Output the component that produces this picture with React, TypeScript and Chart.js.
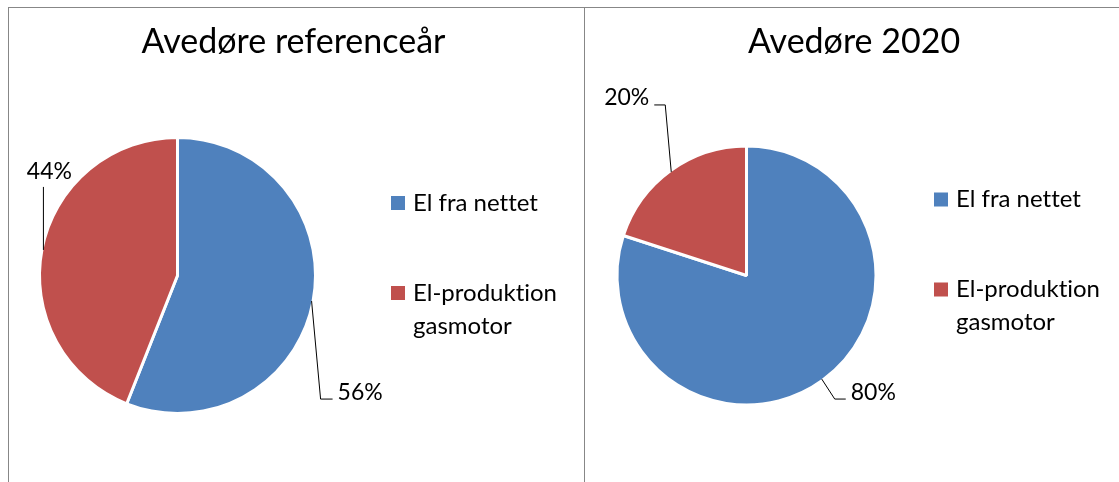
import React, { useEffect, useRef } from "react";
import { Chart, registerables } from "chart.js";

Chart.register(...registerables);

// ---- data ----
const categories = ["El fra nettet", "El-produktion gasmotor"];
const referenceValues = [56, 44];
const values2020 = [80, 20];
const chartTitles = ["Avedøre referenceår", "Avedøre 2020"];
const sliceColors = ["#4F81BD", "#C0504D"];

const FONT = "Lato, 'Open Sans', sans-serif";

type LabelLayout = { dx: number; dy: number; tail: number; side: "left" | "right" | "above" };

const decorPlugin = {
  id: "decor",
  afterDatasetsDraw(chart: any, _args: any, opts: any) {
    const ctx: any = chart.ctx;
    ctx.save();
    try {
      ctx.textRendering = "optimizeSpeed";
    } catch (e) {}
    ctx.fillStyle = "#000";
    ctx.strokeStyle = "#000";
    ctx.lineWidth = 1;

    // title
    ctx.font = `${opts.titleSize}px ${FONT}`;
    ctx.textAlign = "center";
    ctx.textBaseline = "alphabetic";
    ctx.fillText(opts.title, chart.width / 2 + opts.titleDx, opts.titleY);

    // data labels with leader lines
    const meta = chart.getDatasetMeta(0);
    const data = chart.data.datasets[0].data as number[];
    const total = data.reduce((a, b) => a + b, 0);
    ctx.font = `${opts.labelSize}px ${FONT}`;
    meta.data.forEach((arc: any, i: number) => {
      const p = arc.getProps(["x", "y", "startAngle", "endAngle", "outerRadius"], true);
      const a = (p.startAngle + p.endAngle) / 2;
      const r = p.outerRadius - opts.edgeInset;
      const ex = p.x + Math.cos(a) * r;
      const ey = p.y + Math.sin(a) * r;
      const L: LabelLayout = opts.labels[i];
      const bx = ex + L.dx;
      const by = ey + L.dy;
      const tx = bx + L.tail;
      ctx.beginPath();
      ctx.moveTo(ex, ey);
      ctx.lineTo(bx, by);
      if (L.tail) ctx.lineTo(tx, by);
      ctx.stroke();
      const text = Math.round((data[i] / total) * 100) + "%";
      if (L.side === "above") {
        ctx.textAlign = "center";
        ctx.fillText(text, bx + 6, by - 8);
      } else if (L.side === "right") {
        ctx.textAlign = "left";
        ctx.fillText(text, tx + 5, by + 0.5);
      } else {
        ctx.textAlign = "right";
        ctx.fillText(text, tx - 5, by + 0.5);
      }
    });

    // legend
    const labels = chart.data.labels as string[];
    const colors = chart.data.datasets[0].backgroundColor as string[];
    const lg = opts.legend;
    ctx.font = `${opts.legendSize}px ${FONT}`;
    ctx.textAlign = "left";
    labels.forEach((lab, i) => {
      const top = lg.y + i * lg.itemGap;
      ctx.fillStyle = colors[i];
      ctx.fillRect(lg.x, top, lg.box, lg.box);
      ctx.fillStyle = "#000";
      // word wrap
      const words = lab.split(" ");
      const lines: string[] = [];
      let cur = "";
      words.forEach((w) => {
        const test = cur ? cur + " " + w : w;
        if (cur && ctx.measureText(test).width > lg.maxWidth) {
          lines.push(cur);
          cur = w;
        } else cur = test;
      });
      if (cur) lines.push(cur);
      lines.forEach((ln, j) => {
        ctx.fillText(ln, lg.x + lg.textGap, top + lg.box + 0.5 + j * lg.lineGap);
      });
    });
    ctx.restore();
  },
};

type PieProps = {
  title: string;
  values: number[];
  width: number;
  height: number;
  radius: number;
  padding: { left: number; right: number; top: number; bottom: number };
  titleDx: number;
  labels: LabelLayout[];
  legend: { x: number; y: number };
};

function PiePanel(props: PieProps) {
  const ref = useRef<HTMLCanvasElement>(null);
  useEffect(() => {
    if (!ref.current) return;
    const chart = new Chart(ref.current, {
      type: "pie",
      data: {
        labels: categories,
        datasets: [
          {
            data: props.values,
            backgroundColor: sliceColors,
            borderColor: "#ffffff",
            borderWidth: 3,
            radius: props.radius,
          } as any,
        ],
      },
      options: {
        animation: false,
        responsive: false,
        maintainAspectRatio: false,
        events: [],
        layout: { padding: props.padding },
        plugins: {
          legend: { display: false },
          title: { display: false },
          tooltip: { enabled: false },
          decor: {
            title: props.title,
            titleSize: 34,
            titleY: 45,
            titleDx: props.titleDx,
            labelSize: 23,
            legendSize: 24,
            edgeInset: 1.5,
            labels: props.labels,
            legend: { ...props.legend, box: 14, textGap: 22, itemGap: 90, lineGap: 33, maxWidth: 175 },
          },
        } as any,
      },
      plugins: [decorPlugin as any],
    });
    return () => chart.destroy();
  }, []);
  return (
    <canvas
      ref={ref}
      width={props.width}
      height={props.height}
      style={{ display: "block", width: props.width, height: props.height }}
    />
  );
}

export default function App() {
  return (
    <div
      style={{
        position: "fixed",
        left: 0,
        top: 0,
        width: 1119,
        height: 482,
        background: "#fff",
        overflow: "hidden",
      }}
    >
      {/* frame */}
      <div style={{ position: "absolute", left: 8, top: 7, width: 1200, height: 1, background: "#878787" }} />
      <div style={{ position: "absolute", left: 8, top: 7, width: 1, height: 500, background: "#878787" }} />
      <div style={{ position: "absolute", left: 584, top: 7, width: 1, height: 500, background: "#878787" }} />
      <div style={{ position: "absolute", left: 9, top: 8 }}>
        <PiePanel
          title={chartTitles[0]}
          values={referenceValues}
          width={575}
          height={474}
          radius={138}
          padding={{ left: 0, right: 238, top: 61, bottom: 0 }}
          titleDx={-3}
          labels={[
            { dx: 9, dy: 98, tail: 12, side: "right" },
            { dx: 0, dy: -63, tail: 0, side: "above" },
          ]}
          legend={{ x: 382, y: 188 }}
        />
      </div>
      <div style={{ position: "absolute", left: 585, top: 8 }}>
        <PiePanel
          title={chartTitles[1]}
          values={values2020}
          width={534}
          height={474}
          radius={129.5}
          padding={{ left: 0, right: 211, top: 61, bottom: 0 }}
          titleDx={2}
          labels={[
            { dx: 13, dy: 20, tail: 11, side: "right" },
            { dx: -6, dy: -67, tail: -11, side: "left" },
          ]}
          legend={{ x: 349, y: 184.5 }}
        />
      </div>
    </div>
  );
}
